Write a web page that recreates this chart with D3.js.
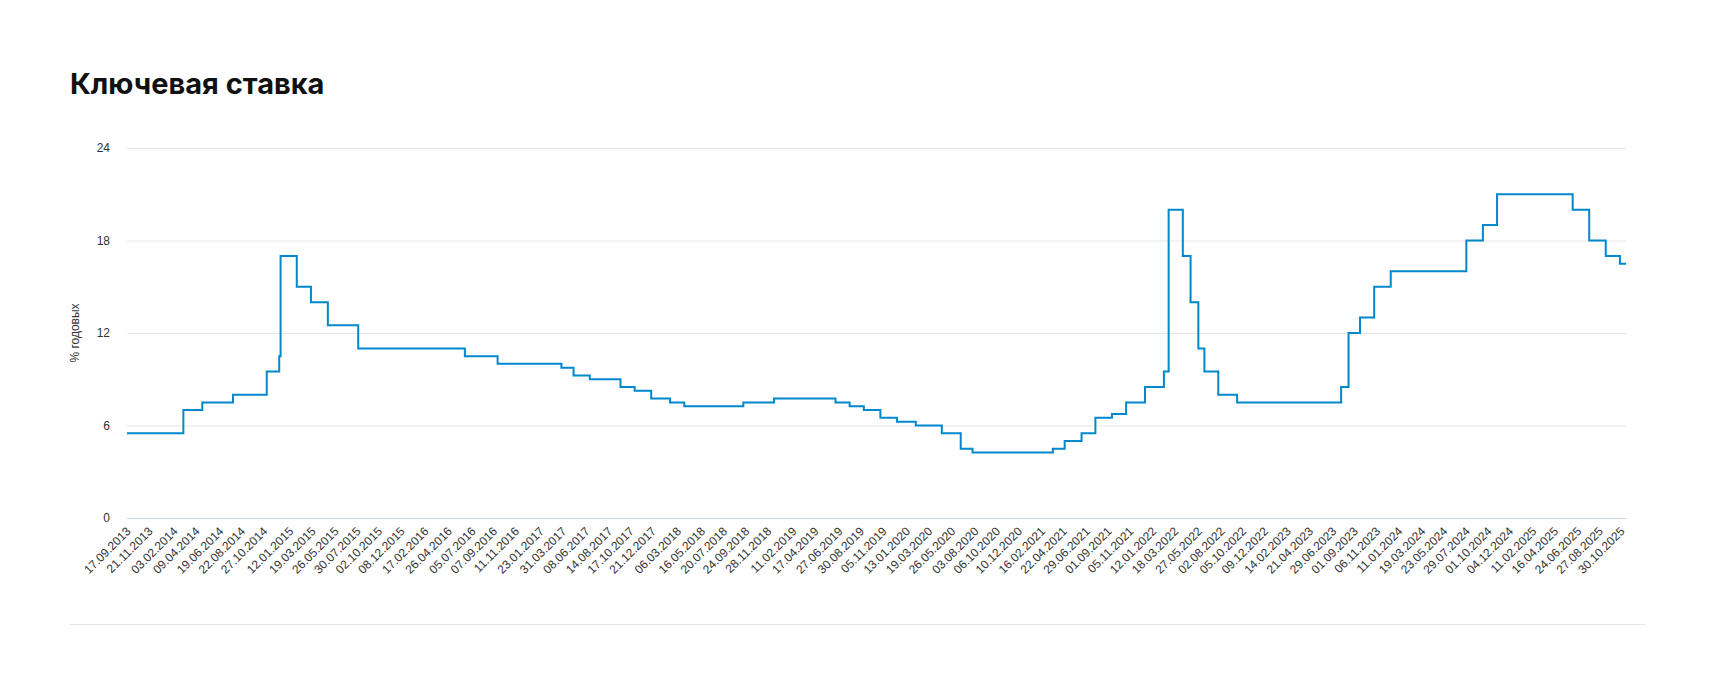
<!DOCTYPE html>
<html><head><meta charset="utf-8">
<script src="https://cdn.jsdelivr.net/npm/d3@7"></script>
<style>body{margin:0;background:#fff}svg{display:block}</style>
</head><body>
<svg id="c" width="1714" height="680"></svg>
<script>
const changeDates = ["17.09.2013","03.03.2014","28.04.2014","28.07.2014","05.11.2014","12.12.2014","16.12.2014","02.02.2015","16.03.2015","05.05.2015","03.08.2015","14.06.2016","19.09.2016","27.03.2017","02.05.2017","19.06.2017","18.09.2017","30.10.2017","18.12.2017","12.02.2018","26.03.2018","17.09.2018","17.12.2018","17.06.2019","29.07.2019","09.09.2019","28.10.2019","16.12.2019","10.02.2020","27.04.2020","22.06.2020","27.07.2020","22.03.2021","26.04.2021","15.06.2021","26.07.2021","13.09.2021","25.10.2021","20.12.2021","14.02.2022","28.02.2022","11.04.2022","04.05.2022","27.05.2022","14.06.2022","25.07.2022","19.09.2022","24.07.2023","15.08.2023","18.09.2023","30.10.2023","18.12.2023","29.07.2024","16.09.2024","28.10.2024","09.06.2025","28.07.2025","15.09.2025","27.10.2025","14.11.2025"];
const rates = [5.5,7,7.5,8,9.5,10.5,17,15,14,12.5,11,10.5,10,9.75,9.25,9,8.5,8.25,7.75,7.5,7.25,7.5,7.75,7.5,7.25,7,6.5,6.25,6,5.5,4.5,4.25,4.5,5,5.5,6.5,6.75,7.5,8.5,9.5,20,17,14,11,9.5,8,7.5,8.5,12,13,15,16,18,19,21,20,18,17,16.5,16.5];
const tickLabels = ["17.09.2013","21.11.2013","03.02.2014","09.04.2014","19.06.2014","22.08.2014","27.10.2014","12.01.2015","19.03.2015","26.05.2015","30.07.2015","02.10.2015","08.12.2015","17.02.2016","26.04.2016","05.07.2016","07.09.2016","11.11.2016","23.01.2017","31.03.2017","08.06.2017","14.08.2017","17.10.2017","21.12.2017","06.03.2018","16.05.2018","20.07.2018","24.09.2018","28.11.2018","11.02.2019","17.04.2019","27.06.2019","30.08.2019","05.11.2019","13.01.2020","19.03.2020","26.05.2020","03.08.2020","06.10.2020","10.12.2020","16.02.2021","22.04.2021","29.06.2021","01.09.2021","05.11.2021","12.01.2022","18.03.2022","27.05.2022","02.08.2022","05.10.2022","09.12.2022","14.02.2023","21.04.2023","29.06.2023","01.09.2023","06.11.2023","11.01.2024","19.03.2024","23.05.2024","29.07.2024","01.10.2024","04.12.2024","11.02.2025","16.04.2025","24.06.2025","27.08.2025","30.10.2025"];
const yTicks = [0,6,12,18,24];

const parse = d3.timeParse("%d.%m.%Y");
const data = changeDates.map((d,i)=>({date:parse(d), v:rates[i]}));
const svg = d3.select("#c");
const L=127,R=1626,T=148,B=518;
const x = d3.scaleTime().domain([data[0].date, data[data.length-1].date]).range([L,R]);
const y = d3.scaleLinear().domain([0,24]).range([B,T]);

svg.append("text").attr("x",70).attr("y",94).text("Ключевая ставка")
  .attr("font-family","Inter, Roboto, sans-serif").attr("font-weight",700).attr("font-size",29).attr("fill","#111");

const gy = svg.append("g").attr("transform",`translate(${L},0)`)
  .call(d3.axisLeft(y).tickValues(yTicks).tickSize(-(R-L)).tickFormat(d3.format("d")));
gy.select(".domain").remove();
gy.selectAll("line").attr("stroke","#e6e6e6");
gy.selectAll("line").filter(d=>d===0).attr("stroke","#ccd6eb");
gy.selectAll("text").attr("x",-17).attr("dy","0.32em").attr("font-family","Liberation Sans, Arial, sans-serif").attr("font-size",12).attr("fill","#333");

svg.append("text").attr("transform",`translate(79,${(T+B)/2}) rotate(-90)`).attr("text-anchor","middle")
  .attr("font-family","Liberation Sans, Arial, sans-serif").attr("font-size",12).attr("fill","#333").text("% годовых");

const gx = svg.append("g").attr("transform",`translate(0,${B})`)
  .call(d3.axisBottom(x).tickValues(tickLabels.map(parse)).tickSize(0).tickFormat(d3.timeFormat("%d.%m.%Y")));
gx.select(".domain").remove();
gx.selectAll("text").attr("text-anchor","end").attr("dy",0).attr("y",0)
  .attr("transform","translate(4,14) rotate(-45)")
  .attr("font-family","Liberation Sans, Arial, sans-serif").attr("font-size",12).attr("fill","#333");

svg.append("path").datum(data).attr("fill","none").attr("stroke","#0088cc").attr("stroke-width",2)
  .attr("d", d3.line().x(d=>x(d.date)).y(d=>y(d.v)).curve(d3.curveStepAfter));

svg.append("line").attr("x1",69).attr("x2",1645).attr("y1",624.5).attr("y2",624.5).attr("stroke","#e6e6e6");
</script></body></html>
